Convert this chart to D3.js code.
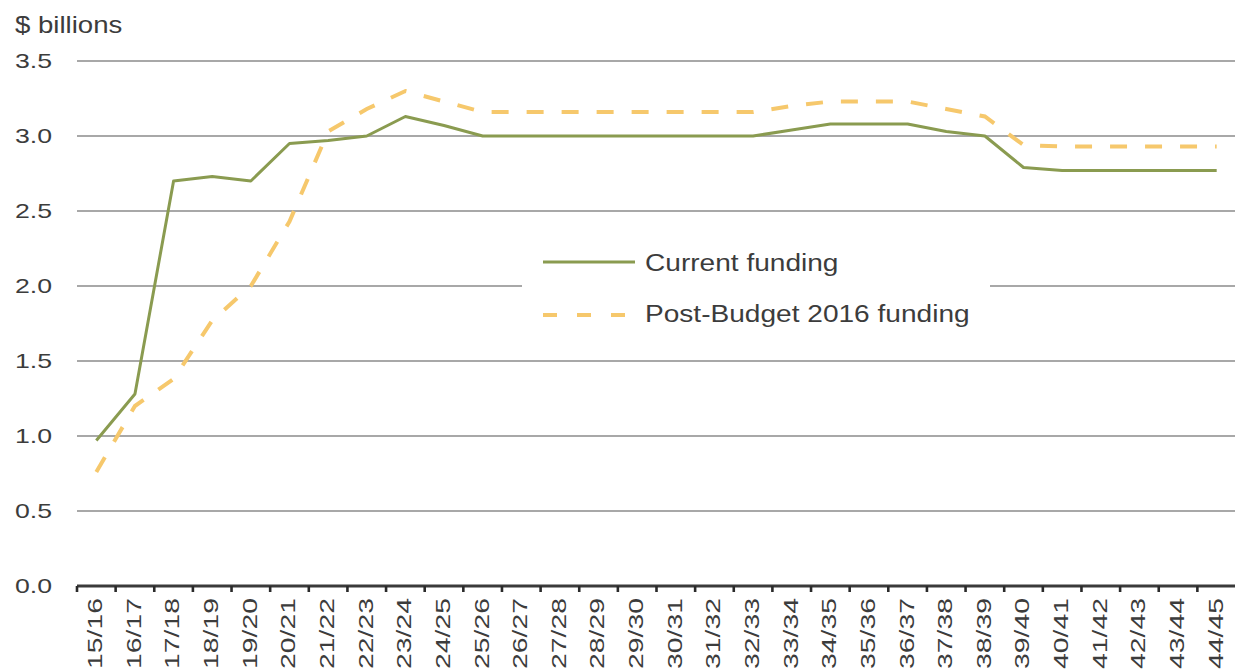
<!DOCTYPE html>
<html>
<head>
<meta charset="utf-8">
<script src="https://cdn.jsdelivr.net/npm/d3@7"></script>
<style>
  html, body { margin: 0; padding: 0; background: #fff; }
  svg { display: block; }
  text { font-family: "Liberation Sans", Arial, sans-serif; fill: #3c3c3c; }
</style>
</head>
<body>
<svg id="chart" width="1235" height="671"></svg>
<script>
// Fiscal years shown on the horizontal axis
const years = ["15/16","16/17","17/18","18/19","19/20","20/21","21/22","22/23","23/24","24/25",
  "25/26","26/27","27/28","28/29","29/30","30/31","31/32","32/33","33/34","34/35",
  "35/36","36/37","37/38","38/39","39/40","40/41","41/42","42/43","43/44","44/45"];

// Funding, $ billions
const currentFunding = [0.97, 1.28, 2.70, 2.73, 2.70, 2.95, 2.97, 3.00, 3.13, 3.07,
  3.00, 3.00, 3.00, 3.00, 3.00, 3.00, 3.00, 3.00, 3.04, 3.08,
  3.08, 3.08, 3.03, 3.00, 2.79, 2.77, 2.77, 2.77, 2.77, 2.77];
const postBudgetFunding = [0.76, 1.20, 1.38, 1.77, 2.00, 2.43, 3.03, 3.18, 3.30, 3.23,
  3.16, 3.16, 3.16, 3.16, 3.16, 3.16, 3.16, 3.16, 3.20, 3.23,
  3.23, 3.23, 3.18, 3.13, 2.94, 2.93, 2.93, 2.93, 2.93, 2.93];

const yTicks = [0, 0.5, 1.0, 1.5, 2.0, 2.5, 3.0, 3.5];
const seriesNames = ["Current funding", "Post-Budget 2016 funding"];

const svg = d3.select("#chart");

const x = d3.scaleBand().domain(years).range([77, 1236]).padding(0);
const y = d3.scaleLinear().domain([0, 3.5]).range([586, 61]);
const bw = x.bandwidth();

// Horizontal gridlines
svg.append("g").selectAll("line")
  .data(yTicks.filter(d => d > 0))
  .join("line")
  .attr("x1", 77).attr("x2", 1235)
  .attr("y1", d => y(d)).attr("y2", d => y(d))
  .attr("stroke", "#a8a8a8").attr("stroke-width", 2.2);

// Y tick labels
svg.append("g").selectAll("text")
  .data(yTicks)
  .join("text")
  .attr("transform", d => `translate(52,${y(d)}) scale(1.27,1)`)
  .attr("text-anchor", "end")
  .attr("dy", "0.35em")
  .attr("font-size", 21)
  .text(d => d3.format(".1f")(d));

// Unit label
svg.append("text")
  .attr("transform", "translate(15,33) scale(1.2,1)")
  .attr("font-size", 23)
  .text("$ billions");

// X axis: ticks at category boundaries, rotated labels
const xAxis = d3.axisBottom(x).tickSize(6).tickSizeOuter(0);
const gx = svg.append("g").attr("transform", "translate(0,586)").call(xAxis);
gx.select(".domain").attr("stroke", "#3a3a3a").attr("stroke-width", 3.2)
  .attr("d", "M77,0H1235");
gx.selectAll(".tick line")
  .attr("transform", `translate(${-bw / 2},0)`)
  .attr("stroke", "#2a2a2a").attr("stroke-width", 2.6);
gx.selectAll(".tick text")
  .attr("y", 0).attr("x", 0)
  .attr("dy", "0.28em")
  .attr("text-anchor", "end")
  .attr("transform", "translate(0,12) rotate(-90) scale(1.35,1)")
  .attr("font-size", 21)
  .attr("font-family", "Liberation Sans, Arial, sans-serif")
  .attr("fill", "#3c3c3c");

// Legend background masks the gridline behind it
svg.append("rect")
  .attr("x", 522).attr("y", 240).attr("width", 468).attr("height", 96)
  .attr("fill", "#fff");

const line = d3.line()
  .x((d, i) => x(years[i]) + bw / 2)
  .y(d => y(d));

svg.append("path")
  .datum(currentFunding)
  .attr("d", line)
  .attr("fill", "none")
  .attr("stroke", "#8a9b50")
  .attr("stroke-width", 3)
  .attr("stroke-linejoin", "round");

svg.append("path")
  .datum(postBudgetFunding)
  .attr("d", line)
  .attr("fill", "none")
  .attr("stroke", "#f6c86c")
  .attr("stroke-width", 4)
  .attr("stroke-dasharray", "17 18");

// Legend
const legend = svg.append("g");
legend.append("line")
  .attr("x1", 543).attr("x2", 635).attr("y1", 262).attr("y2", 262)
  .attr("stroke", "#8a9b50").attr("stroke-width", 3);
legend.append("line")
  .attr("x1", 543).attr("x2", 635).attr("y1", 315).attr("y2", 315)
  .attr("stroke", "#f6c86c").attr("stroke-width", 4)
  .attr("stroke-dasharray", "14 20");
legend.selectAll("text")
  .data(seriesNames)
  .join("text")
  .attr("transform", (d, i) => `translate(645,${i === 0 ? 271 : 322}) scale(1.17,1)`)
  .attr("font-size", 24)
  .text(d => d);
</script>
</body>
</html>
